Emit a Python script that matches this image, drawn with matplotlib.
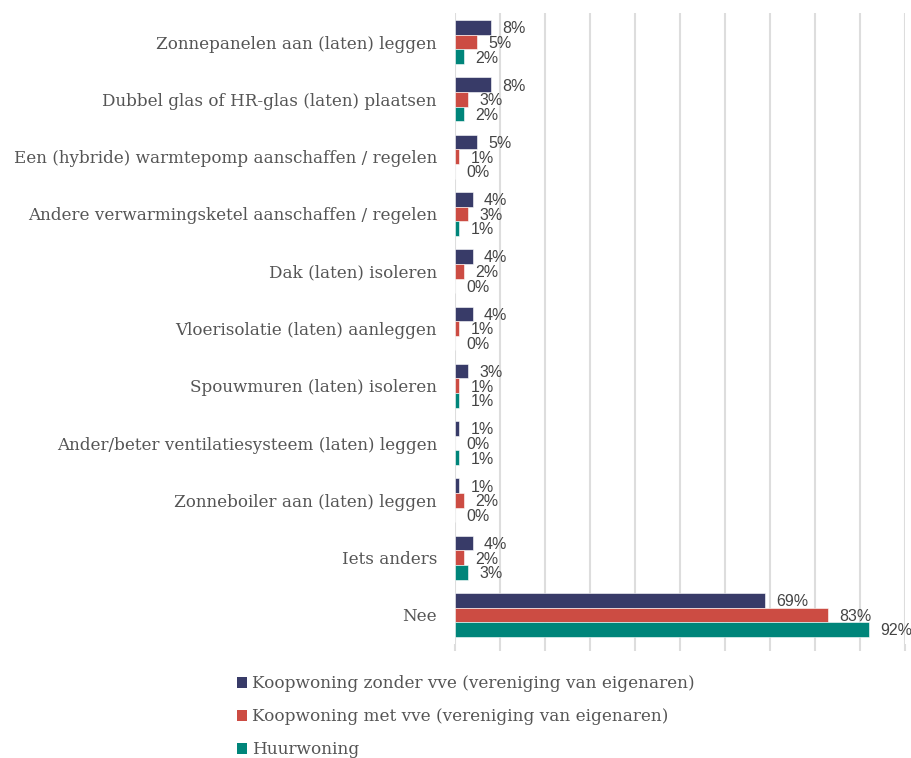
import matplotlib.pyplot as plt
import numpy as np
from matplotlib.patches import Patch

# categories, top to bottom
categories = [
    "Zonnepanelen aan (laten) leggen",
    "Dubbel glas of HR-glas (laten) plaatsen",
    "Een (hybride) warmtepomp aanschaffen / regelen",
    "Andere verwarmingsketel aanschaffen / regelen",
    "Dak (laten) isoleren",
    "Vloerisolatie (laten) aanleggen",
    "Spouwmuren (laten) isoleren",
    "Ander/beter ventilatiesysteem (laten) leggen",
    "Zonneboiler aan (laten) leggen",
    "Iets anders",
    "Nee",
]
series_names = [
    "Koopwoning zonder vve (vereniging van eigenaren)",
    "Koopwoning met vve (vereniging van eigenaren)",
    "Huurwoning",
]
zonder_vve = [8, 8, 5, 4, 4, 4, 3, 1, 1, 4, 69]
met_vve = [5, 3, 1, 3, 2, 1, 1, 0, 2, 2, 83]
huur = [2, 2, 0, 1, 0, 0, 1, 1, 0, 3, 92]

colors = ["#383b68", "#cc4c43", "#00857a"]
series = [zonder_vve, met_vve, huur]

serif = ["DejaVu Serif"]
label_color = "#555555"

fig = plt.figure(figsize=(9.12, 7.58), dpi=100)
ax = fig.add_axes([455 / 912, 1 - 643.6 / 758, 450 / 912, 630.2 / 758])

y = np.arange(len(categories))
bar_h = 0.255
for i, (vals, col) in enumerate(zip(series, colors)):
    pos = y + (i - 1) * bar_h
    ax.barh(pos, vals, height=bar_h, color=col, edgecolor="white", linewidth=0.4, zorder=3)
    for p, v in zip(pos, vals):
        ax.annotate(f"{v}%", (v, p), xytext=(8, -1), textcoords="offset points",
                    va="center", ha="left", fontsize=11.5, color="#444444",
                    family="Liberation Sans", zorder=4)

ax.set_xlim(0, 100)
ax.set_ylim(len(categories) - 0.5, -0.5)
ax.set_xticks(np.arange(0, 101, 10))
ax.set_xticklabels([])
ax.grid(axis="x", color="#dddddd", linewidth=1.5, zorder=0)
ax.tick_params(axis="x", length=5, color="#dddddd", width=1.5)
ax.tick_params(axis="y", length=0, pad=13)
ax.set_yticks(y)
ax.set_yticklabels(categories, fontsize=12.1, color=label_color, family=serif)
for s in ax.spines.values():
    s.set_visible(False)

handles = [Patch(facecolor=c, edgecolor="none") for c in colors]
fig.legend(handles, series_names, loc="upper left", bbox_to_anchor=(222 / 912, 1 - 660 / 758),
           frameon=False, handlelength=0.6, handleheight=0.6, handletextpad=0.25,
           labelspacing=0.95, prop={"family": serif, "size": 12.2}, labelcolor=label_color)

fig.savefig("out.png", dpi=100)
